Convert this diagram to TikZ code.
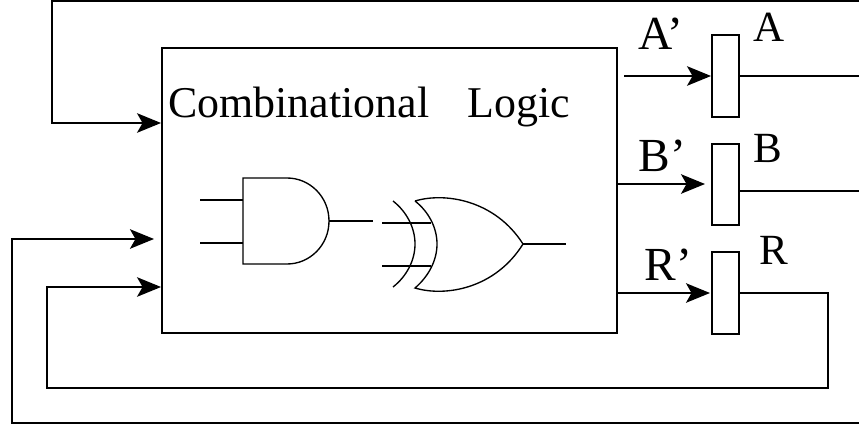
\documentclass[tikz,border=0pt]{standalone}
\usepackage{fontspec}
\setmainfont{Liberation Serif}
\usetikzlibrary{arrows.meta}

\tikzset{
  wire/.style={line width=0.38mm},
  signal/.style={wire,-{Stealth[length=4.8mm,width=3.9mm,inset=1.1mm]}},
  gateline/.style={line width=0.27mm},
  regbox/.style={draw,line width=0.38mm,inner sep=0,minimum width=5.4mm,minimum height=16.3mm},
  bigtext/.style={inner sep=0,anchor=base west,font=\fontsize{25}{25}\selectfont},
  primetext/.style={inner sep=0,anchor=base west,font=\fontsize{27}{27}\selectfont},
  regtext/.style={inner sep=0,anchor=base west,font=\fontsize{24.5}{24.5}\selectfont}
}

\begin{document}
\begin{tikzpicture}[x=0.2mm,y=-0.2mm]
  \useasboundingbox (0,0) rectangle (859,428);
  \node[draw,line width=0.38mm,inner sep=0,minimum width=91mm,minimum height=57mm] (logic) at (389.5,190.5) {};
  \node[regbox] (regA) at (725.5,76) {};
  \node[regbox] (regB) at (725.5,184.5) {};
  \node[regbox] (regR) at (725.5,293) {};
  % labels
  \node[bigtext] (combtext) at (168,118) {Combinational};
  \node[bigtext] (logictext) at (467,118) {Logic};
  \node[primetext] (aprime) at (638,50) {A’};
  \node[primetext] (bprime) at (638,171) {B’};
  \node[primetext] (rprime) at (644,280) {R’};
  \node[regtext] (alabel) at (753,42) {A};
  \node[regtext] (blabel) at (753,163) {B};
  \node[regtext] (rlabel) at (759,264) {R};
  % outputs of the logic block
  \coordinate (astart) at (624,76);
  \coordinate (bstop) at (705,184);
  \coordinate (rstop) at (710,293);
  \draw[signal] (astart) -- (regA.west);
  \draw[signal] (logic.east|-bstop) -- (bstop);
  \draw[signal] (logic.east|-rstop) -- (rstop);
  % feedback wires
  \coordinate (aend) at (859,76);
  \coordinate (bend) at (859,191);
  \coordinate (topend) at (859,1);
  \coordinate (botend) at (859,423);
  \coordinate (inlow) at (154,239);
  \draw[wire] (regA.east) -- (aend);
  \draw[wire] (regB.east|-bend) -- (bend);
  \draw[signal] (topend) -- (52,1) -- (52,123) -- (logic.west|-0,123);
  \draw[signal] (regR.east) -- (828,293) -- (828,388) -- (47,388) -- (47,287) -- (logic.west|-0,287);
  \draw[signal] (botend) -- (12,423) -- (12,239) -- (inlow);
  % and gate
  \draw[gateline] (200,200) -- (243,200);
  \draw[gateline] (200,243) -- (243,243);
  \draw[gateline] (287,178) -- (243,178) -- (243,264) -- (287,264)
    .. controls (310,264) and (329,245) .. (329,221)
    .. controls (329,197) and (310,178) .. (287,178);
  \draw[gateline] (329,221) -- (373,221);
  % xor gate
  \draw[gateline] (393,201) .. controls (407,212) and (415,228) .. (415,244)
    .. controls (415,260) and (407,276) .. (393,287);
  \draw[gateline] (415,201) .. controls (429,212) and (437,228) .. (437,244)
    .. controls (437,260) and (429,276) .. (415,288)
    .. controls (445,297) and (495,289) .. (523,244)
    .. controls (495,200) and (445,192) .. (415,201);
  \draw[gateline] (382,223) -- (431,223);
  \draw[gateline] (382,266) -- (431,266);
  \draw[gateline] (523,244) -- (566,244);
\end{tikzpicture}
\end{document}
